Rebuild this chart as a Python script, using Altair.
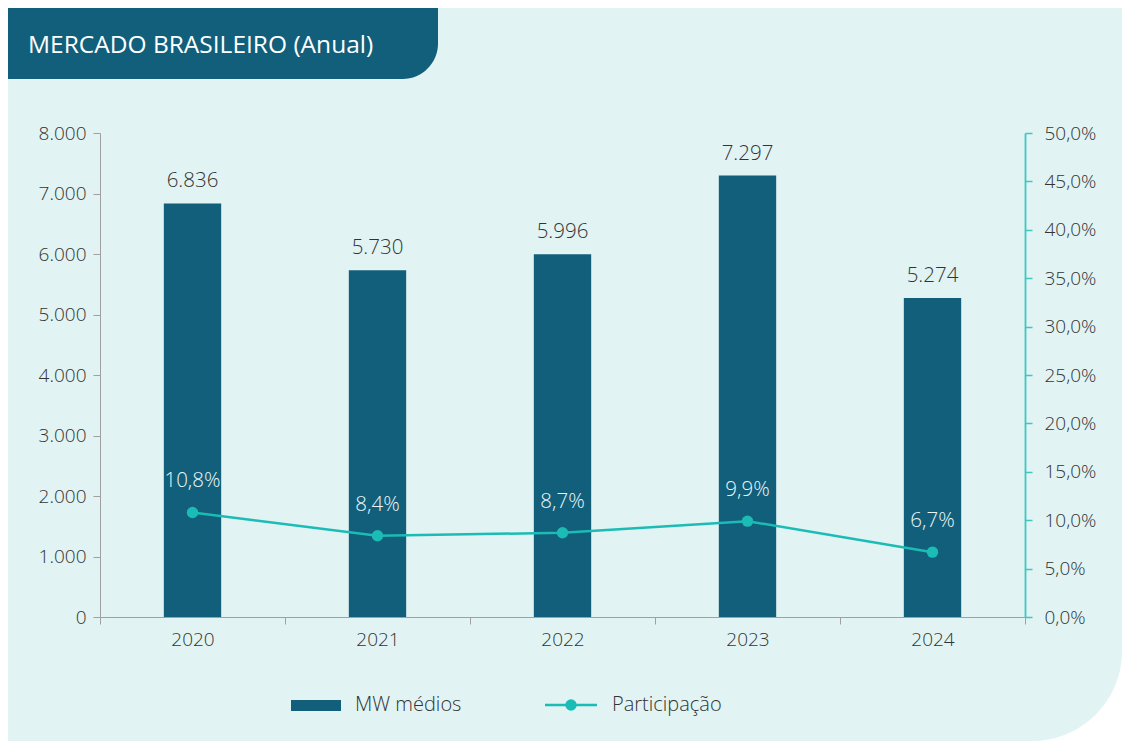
import altair as alt
import pandas as pd

anos = ["2020", "2021", "2022", "2023", "2024"]
mw = [6836, 5730, 5996, 7297, 5274]
part = [0.108, 0.084, 0.087, 0.099, 0.067]
series = ["MW médios", "Participação"]
titulo = "MERCADO BRASILEIRO (Anual)"
left_ticks = [0, 1000, 2000, 3000, 4000, 5000, 6000, 7000, 8000]
right_ticks = [0.0, 0.05, 0.10, 0.15, 0.20, 0.25, 0.30, 0.35, 0.40, 0.45, 0.50]

BAR = "#115f7b"
LINE = "#1bbcb5"
AXR = "#3fc7c1"
PANEL = "#e1f3f3"
TXT = "#333333"
GRAY = "#a0a0a0"
FONT = "Open Sans"
FW = 300

df = pd.DataFrame({"ano": anos, "mw": mw, "part": part})
df["mw_lbl"] = [f"{v:,}".replace(",", ".") for v in mw]
df["part_lbl"] = [f"{v*100:.1f}%".replace(".", ",") for v in part]
one = pd.DataFrame({"k": [0]})

xenc = alt.X(
    "ano:N", sort=anos,
    scale=alt.Scale(paddingInner=0, paddingOuter=0),
    axis=alt.Axis(title=None, labelAngle=0, tickBand="extent", domainColor=GRAY,
                  tickColor=GRAY, tickSize=7, labelPadding=6, labelFontSize=19,
                  labelColor=TXT, labelFont=FONT, labelFontWeight=FW, grid=False,
                  zindex=1),
)

yleft = alt.Y(
    "mw:Q", scale=alt.Scale(domain=[0, 8000], nice=False),
    axis=alt.Axis(title=None, values=left_ticks, grid=False, domainColor=GRAY,
                  tickColor=GRAY, tickSize=7, labelPadding=7, labelFontSize=19,
                  labelColor=TXT, labelFont=FONT, labelFontWeight=FW, zindex=1,
                  labelExpr="replace(format(datum.value, ',.0f'), ',', '.')"),
)

yright = alt.Y(
    "part:Q", scale=alt.Scale(domain=[0, 0.5], nice=False),
    axis=alt.Axis(title=None, orient="right", values=right_ticks, grid=False,
                  domainColor=AXR, domainWidth=1.8, tickColor=AXR, tickWidth=1.5,
                  tickSize=7, labelPadding=12, labelFontSize=19, labelColor=TXT,
                  labelFont=FONT, labelFontWeight=FW, zindex=1,
                  labelExpr="replace(format(datum.value, '.1%'), '.', ',')"),
)

bg = alt.Chart(one).mark_rect(color=PANEL, cornerRadiusBottomRight=90, clip=False).encode(
    x=alt.value(-92), x2=alt.value(1022), y=alt.value(-125), y2=alt.value(608))
banner = alt.Chart(one).mark_rect(color=BAR, cornerRadiusBottomRight=42, clip=False).encode(
    x=alt.value(-92), x2=alt.value(338), y=alt.value(-125), y2=alt.value(-54))
title_txt = alt.Chart(one).mark_text(
    text=titulo, align="left", baseline="alphabetic", fontSize=24.5, color="white",
    font=FONT, clip=False).encode(x=alt.value(-72), y=alt.value(-80))

bars = alt.Chart(df).mark_bar(color=BAR, width=alt.RelativeBandSize(0.31)).encode(
    x=xenc, y=yleft)
bar_lbl = alt.Chart(df).mark_text(dy=-22, baseline="middle", fontSize=20.5, color=TXT,
                                  font=FONT, fontWeight=FW).encode(
    x=xenc, y=yleft, text="mw_lbl:N")
left = alt.layer(bars, bar_lbl)

line = alt.Chart(df).mark_line(color=LINE, strokeWidth=2.5).encode(x=xenc, y=yright)
pts = alt.Chart(df).mark_circle(color=LINE, size=130, opacity=1).encode(x=xenc, y=yright)
pt_lbl = alt.Chart(df).mark_text(dy=-31, baseline="middle", fontSize=20.5, color="#eaf6f6",
                                 font=FONT, fontWeight=FW).encode(
    x=xenc, y=yright, text="part_lbl:N")
right = alt.layer(line, pts, pt_lbl)

# legend
leg_rect = alt.Chart(one).mark_rect(color=BAR, clip=False).encode(
    x=alt.value(191), x2=alt.value(241), y=alt.value(567), y2=alt.value(578))
leg_t1 = alt.Chart(one).mark_text(text=series[0], align="left", baseline="middle",
                                  fontSize=20, color=TXT, font=FONT, fontWeight=FW,
                                  clip=False).encode(x=alt.value(255), y=alt.value(572))
leg_line = alt.Chart(one).mark_rule(color=LINE, strokeWidth=2.5, clip=False).encode(
    x=alt.value(445), x2=alt.value(497), y=alt.value(572))
leg_pt = alt.Chart(one).mark_circle(color=LINE, size=130, opacity=1, clip=False).encode(
    x=alt.value(471), y=alt.value(572))
leg_t2 = alt.Chart(one).mark_text(text=series[1], align="left", baseline="middle",
                                  fontSize=20, color=TXT, font=FONT, fontWeight=FW,
                                  clip=False).encode(x=alt.value(512), y=alt.value(572))

chart = alt.layer(
    bg, banner, title_txt, left, right, leg_rect, leg_t1, leg_line, leg_pt, leg_t2
).resolve_scale(y="independent").properties(
    width=925, height=484,
    autosize=alt.AutoSizeParams(type="none"),
    padding={"left": 92, "top": 125, "right": 97, "bottom": 124},
    background="white",
).configure_view(stroke=None).configure(font=FONT)

chart.save("out.html", embed_options={"renderer": "svg", "actions": False})
